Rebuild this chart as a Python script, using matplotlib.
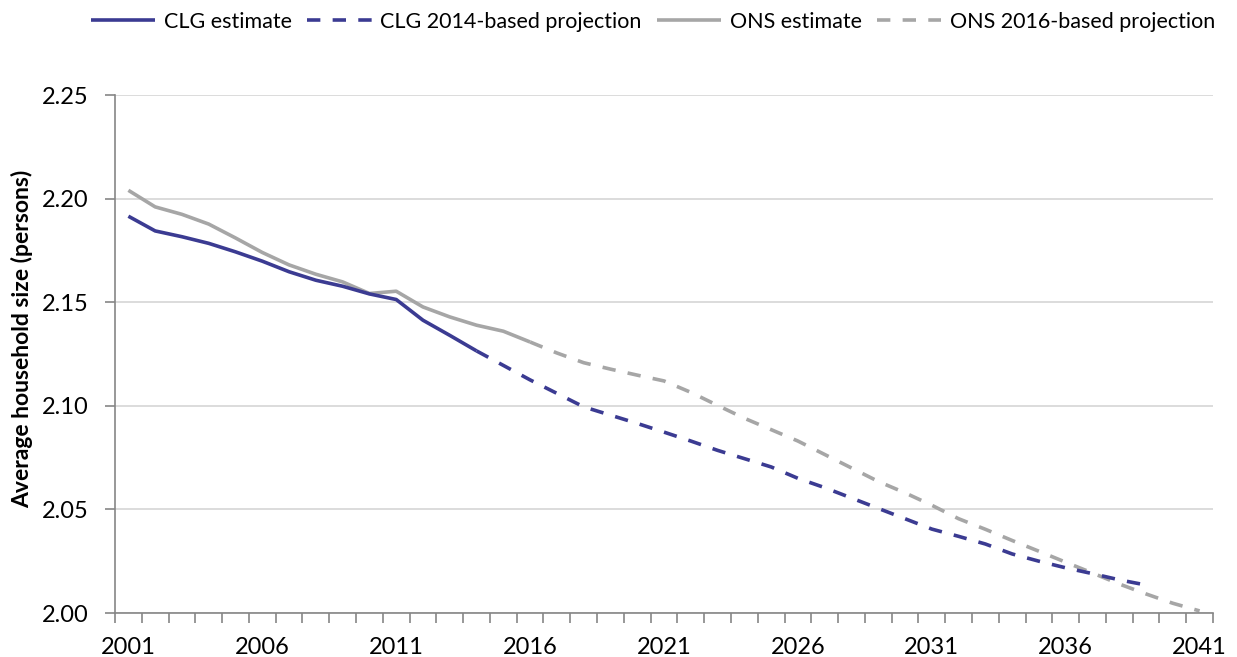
import numpy as np
import matplotlib
matplotlib.use("Agg")
import matplotlib.pyplot as plt
from matplotlib.ticker import MultipleLocator, FixedLocator

plt.rcParams['font.family'] = ['Lato', 'DejaVu Sans']

# CLG estimate 2001-2014
clg_est_years = list(range(2001, 2015))
clg_est = [2.1915, 2.1844, 2.1816, 2.1784, 2.1743, 2.1698, 2.1647, 2.1606,
           2.1577, 2.1540, 2.1513, 2.1413, 2.1340, 2.1265]

# CLG 2014-based projection 2014-2039
clg_proj_years = list(range(2014, 2040))
clg_proj = [2.1265, 2.1195, 2.1125, 2.1060, 2.0995, 2.0955, 2.0915, 2.0873,
            2.0830, 2.0785, 2.0745, 2.0705, 2.0650, 2.0605, 2.0555, 2.0505,
            2.0455, 2.0405, 2.0370, 2.0333, 2.0285, 2.0250, 2.0218, 2.0190,
            2.0160, 2.0135]

# ONS estimate 2001-2016
ons_est_years = list(range(2001, 2017))
ons_est = [2.2040, 2.1960, 2.1924, 2.1877, 2.1810, 2.1740, 2.1680, 2.1635,
           2.1598, 2.1542, 2.1553, 2.1477, 2.1429, 2.1389, 2.1360, 2.1308]

# ONS 2016-based projection 2016-2041
ons_proj_years = list(range(2016, 2042))
ons_proj = [2.1308, 2.1255, 2.1208, 2.1177, 2.1148, 2.1120, 2.1065, 2.1002,
            2.0940, 2.0885, 2.0830, 2.0765, 2.0700, 2.0635, 2.0580, 2.0520,
            2.0455, 2.0404, 2.0350, 2.0298, 2.0245, 2.0193, 2.0140, 2.0092,
            2.0047, 2.0010]

year_labels = [2001, 2006, 2011, 2016, 2021, 2026, 2031, 2036, 2041]

blue = '#3B3B92'
grey = '#A6A6A6'
axis_col = '#868686'

fig = plt.figure(figsize=(12.37, 6.57), dpi=100)
ax = fig.add_axes([115 / 1237, 44 / 657, 1098 / 1237, 518 / 657])

lw = 2.6
dash = (3.7, 3.4)
l1, = ax.plot(clg_est_years, clg_est, color=blue, lw=lw, solid_capstyle='butt', zorder=3)
l2, = ax.plot(clg_proj_years, clg_proj, color=blue, lw=lw, dashes=dash, zorder=3)
l3, = ax.plot(ons_est_years, ons_est, color=grey, lw=lw, solid_capstyle='butt', zorder=2)
l4, = ax.plot(ons_proj_years, ons_proj, color=grey, lw=lw, dashes=dash, zorder=2)

ax.set_xlim(2000.5, 2041.5)
ax.set_ylim(2.00, 2.25)

ax.yaxis.set_major_locator(MultipleLocator(0.05))
ax.yaxis.set_major_formatter(plt.FuncFormatter(lambda v, p: f'{v:.2f}'))
ax.grid(axis='y', color='#D9D9D9', lw=1.3)
ax.set_axisbelow(True)

ax.xaxis.set_major_locator(FixedLocator(year_labels))
ax.xaxis.set_minor_locator(FixedLocator(np.arange(2000.5, 2042, 1)))
ax.tick_params(axis='x', which='major', length=0, pad=17, labelsize=17)
ax.tick_params(axis='x', which='minor', length=7, width=1.2, color=axis_col)
ax.tick_params(axis='y', which='major', length=7, width=1.2, color=axis_col,
               pad=12, labelsize=17)

for s in ['top', 'right']:
    ax.spines[s].set_visible(False)
for s in ['left', 'bottom']:
    ax.spines[s].set_color(axis_col)
    ax.spines[s].set_linewidth(1.2)

fig.text(22 / 1237, 1 - 339 / 657, 'Average household size (persons)',
         rotation=90, ha='center', va='center', fontsize=16.5, fontweight='bold')

fig.legend([l1, l2, l3, l4],
           ['CLG estimate', 'CLG 2014-based projection', 'ONS estimate',
            'ONS 2016-based projection'],
           loc='center', bbox_to_anchor=(653 / 1237, 1 - 22 / 657), ncol=4,
           frameon=False, fontsize=15.5, handlelength=3.0, handletextpad=0.4,
           columnspacing=0.7, borderaxespad=0)

fig.savefig('out.png', dpi=100)
